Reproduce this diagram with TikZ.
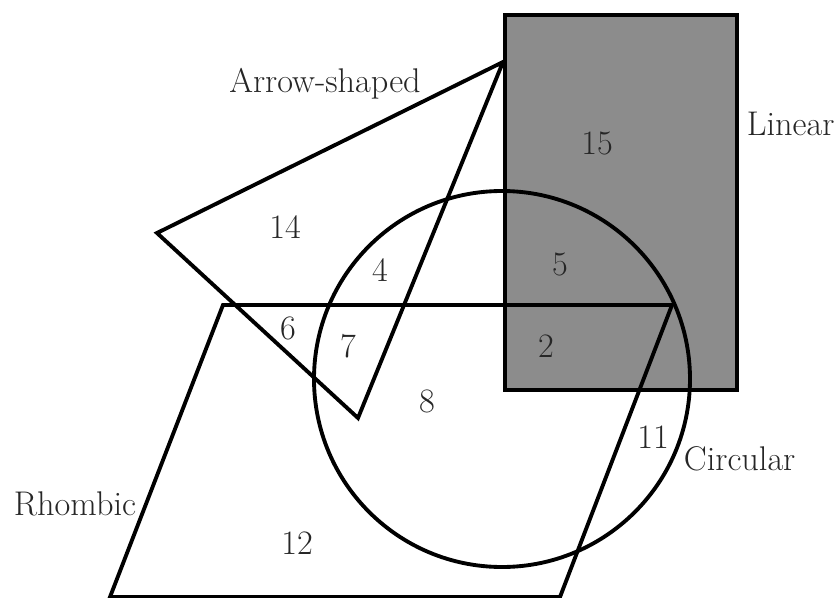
\documentclass[tikz,border=0pt]{standalone}
\usetikzlibrary{positioning}

\begin{document}
\begin{tikzpicture}[x=0.02cm, y=-0.02cm, line width=2.2pt,
    lbl/.style={font=\fontsize{19.5}{23}\selectfont, text=black!85, inner sep=0pt}]
    \useasboundingbox (0,0) rectangle (838,598);
    % corners of the sets
    \coordinate (linA) at (505,15);
    \coordinate (linB) at (737,390);
    \coordinate (circ) at (502,379);
    \coordinate (tip) at (503,62);
    \coordinate (wingL) at (157,233);
    \coordinate (wingB) at (358,418);
    \coordinate (rhTL) at (223,305);
    \coordinate (rhTR) at (672,305);
    \coordinate (rhBR) at (560,597);
    \coordinate (rhBL) at (110,597);

    \fill[black!45] (linA) rectangle (linB);
    \draw (linA) rectangle (linB);
    \draw (circ) circle[radius=188];
    \draw (tip) -- (wingL) -- (wingB) -- cycle;
    \draw (rhTL) -- (rhTR) -- (rhBR) -- (rhBL) -- cycle;

    \node[lbl, anchor=base] (arrowlbl) at (325,92) {Arrow-shaped};
    \node[lbl, anchor=base west] (linlbl) at (745,135) {Linear};
    \node[lbl, anchor=base west] (circlbl) at (682,470) {Circular};
    \node[lbl, anchor=base west] (rhlbl) at (12,515) {Rhombic};

    \node[lbl] (r15) at (597,143) {15};
    \node[lbl] (r14) at (285,227) {14};
    \node[lbl] (r4) at (380,270) {4};
    \node[lbl] (r5) at (560,264) {5};
    \node[lbl] (r6) at (288,328) {6};
    \node[lbl] (r7) at (348,346) {7};
    \node[lbl] (r2) at (546,346) {2};
    \node[lbl] (r8) at (427,401) {8};
    \node[lbl] (r11) at (653,437) {11};
    \node[lbl] (r12) at (297,543) {12};
\end{tikzpicture}
\end{document}
